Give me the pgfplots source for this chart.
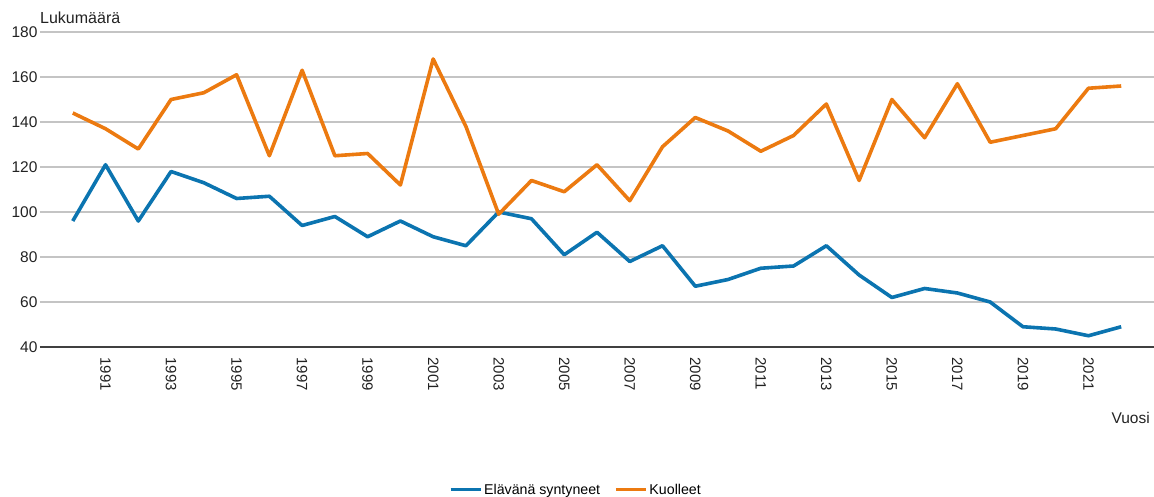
\documentclass[border=0pt]{standalone}
\usepackage{fontspec}
\setmainfont{Liberation Sans}
\usepackage{pgfplots}
\pgfplotsset{compat=1.18}
\definecolor{cblue}{HTML}{0B74B0}
\definecolor{corange}{HTML}{EC7A10}
\definecolor{gridc}{HTML}{C4C4C4}
\definecolor{txt}{HTML}{222222}
\begin{document}
\begin{tikzpicture}
\path[use as bounding box] (-40pt,-150pt) rectangle (1114pt,347pt);
\begin{axis}[
  scale only axis,
  width=1114pt, height=315pt,
  xmin=1989, xmax=2023,
  ymin=40, ymax=180,
  ytick={40,60,...,180},
  xtick={1991,1993,...,2021},
  /pgf/number format/assume math mode=true,
  xticklabel style={rotate=-90, anchor=west, /pgf/number format/1000 sep={}, font=\fontsize{15}{17}\selectfont, text=txt, xshift=7pt},
  yticklabel style={font=\fontsize{15.5}{17}\selectfont, text=txt, xshift=1pt},
  major tick length=0pt,
  ymajorgrids,
  grid style={gridc, line width=1.3pt},
  axis x line*=bottom,
  axis y line*=left,
  y axis line style={draw=none},
  x axis line style={draw=black!75, line width=1.6pt, -},
  legend style={at={(0.481,-0.453)}, anchor=center, draw=none, fill=none,
    legend columns=2, font=\fontsize{14.2}{16}\selectfont, inner sep=0pt,
    /tikz/every even column/.append style={column sep=12pt}},
  legend image code/.code={\draw[#1, line width=3.3pt] (0pt,0pt) -- (30pt,0pt);},
  clip=false,
]
\addplot[cblue, line width=3.6pt, line join=round] coordinates {
(1990,96) (1991,121) (1992,96) (1993,118) (1994,113) (1995,106) (1996,107)
(1997,94) (1998,98) (1999,89) (2000,96) (2001,89) (2002,85) (2003,100)
(2004,97) (2005,81) (2006,91) (2007,78) (2008,85) (2009,67) (2010,70)
(2011,75) (2012,76) (2013,85) (2014,72) (2015,62) (2016,66) (2017,64)
(2018,60) (2019,49) (2020,48) (2021,45) (2022,49)};
\addlegendentry{Elävänä syntyneet}
\addplot[corange, line width=3.6pt, line join=round] coordinates {
(1990,144) (1991,137) (1992,128) (1993,150) (1994,153) (1995,161) (1996,125)
(1997,163) (1998,125) (1999,126) (2000,112) (2001,168) (2002,138) (2003,99)
(2004,114) (2005,109) (2006,121) (2007,105) (2008,129) (2009,142) (2010,136)
(2011,127) (2012,134) (2013,148) (2014,114) (2015,150) (2016,133) (2017,157)
(2018,131) (2019,134) (2020,137) (2021,155) (2022,156)};
\addlegendentry{Kuolleet}
\node[anchor=base west, font=\fontsize{16}{18}\selectfont, text=txt, inner sep=0pt] at ([yshift=8pt]rel axis cs:0,1) {Lukumäärä};
\node[anchor=base east, font=\fontsize{15.5}{17}\selectfont, text=txt, inner sep=0pt] at ([xshift=-4pt,yshift=-77pt]rel axis cs:1,0) {Vuosi};
\end{axis}
\end{tikzpicture}
\end{document}
